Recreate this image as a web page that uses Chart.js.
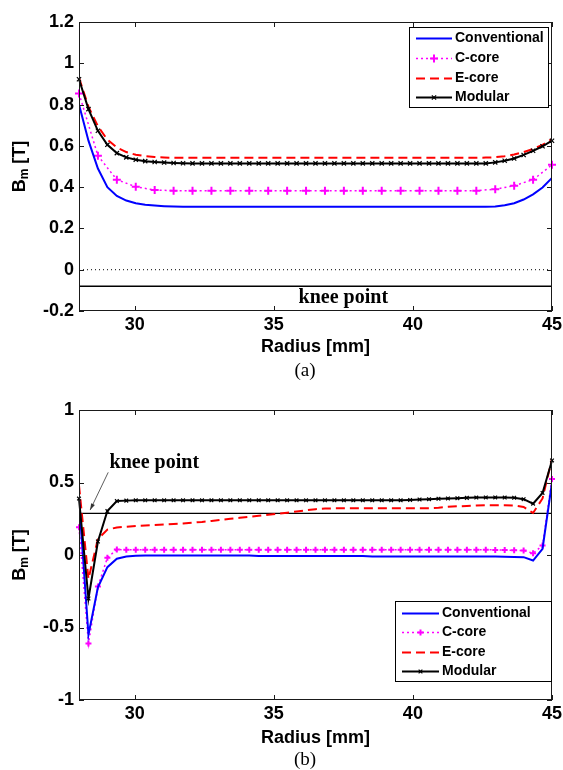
<!DOCTYPE html>
<html><head><meta charset="utf-8">
<script src="https://cdn.jsdelivr.net/npm/chart.js@4.4.1/dist/chart.umd.min.js"></script>
<style>
html,body{margin:0;padding:0;background:#fff;}
body{width:563px;height:770px;position:relative;overflow:hidden;}
canvas{position:absolute;left:0;}
#ca{top:0}
#cb{top:385px}
</style></head><body>
<canvas id="ca" width="563" height="385"></canvas>
<canvas id="cb" width="563" height="385"></canvas>
<script>
// ---------------- data ----------------
const seriesNames = ['Conventional', 'C-core', 'E-core', 'Modular'];
const xTicks = [30, 35, 40, 45];
const yTicksA = [-0.2, 0, 0.2, 0.4, 0.6, 0.8, 1.0, 1.2];
const yTicksB = [-1, -0.5, 0, 0.5, 1];

// radius samples [mm]
const radius = [28.00,28.34,28.68,29.02,29.36,29.70,30.04,30.38,30.72,31.06,
  31.40,31.74,32.08,32.42,32.76,33.10,33.44,33.78,34.12,34.46,
  34.80,35.14,35.48,35.82,36.16,36.50,36.84,37.18,37.52,37.86,
  38.20,38.54,38.88,39.22,39.56,39.90,40.24,40.58,40.92,41.26,
  41.60,41.94,42.28,42.62,42.96,43.30,43.64,43.98,44.32,44.66,45.00];
const radiusCcoreA = [28.00,28.68,29.36,30.04,30.72,31.40,32.08,32.76,33.44,34.12,
  34.80,35.48,36.16,36.84,37.52,38.20,38.88,39.56,40.24,40.92,
  41.60,42.28,42.96,43.64,44.32,45.00];

// (a)
const convA = [0.800,0.625,0.490,0.400,0.357,0.335,0.322,0.315,0.311,0.308,0.306,0.305,
  0.305,0.305,0.305,0.305,0.305,0.305,0.305,0.305,
  0.305,0.305,0.305,0.305,0.305,0.305,0.305,0.305,
  0.305,0.305,0.305,0.305,0.305,0.305,0.305,0.305,
  0.305,0.305,0.305,0.305,0.305,0.305,0.305,0.305,
  0.306,0.312,0.322,0.340,0.365,0.398,0.445];
const ccoreA = [0.854,0.552,0.436,0.402,0.386,
  0.383,0.383,0.383,0.383,0.383,0.383,0.383,0.383,0.383,
  0.383,0.383,0.383,0.383,0.383,0.383,0.383,0.383,
  0.390,0.407,0.436,0.508];
const ecoreA = [0.930,0.790,0.695,0.630,0.592,0.570,0.557,0.550,0.546,0.544,
  0.542,0.542,0.542,0.542,0.542,0.542,0.542,0.542,0.542,0.542,0.542,
  0.542,0.542,0.542,0.542,0.542,0.542,0.542,0.542,0.542,0.542,0.542,
  0.542,0.542,0.542,0.542,0.542,0.542,0.542,0.542,0.542,0.542,0.542,
  0.543,0.545,0.550,0.558,0.570,0.585,0.605,0.633];
const modA = [0.923,0.778,0.673,0.605,0.565,0.544,0.533,0.526,0.522,0.519,0.517,0.516,
  0.515,0.515,0.515,0.515,0.515,0.515,0.515,0.515,
  0.515,0.515,0.515,0.515,0.515,0.515,0.515,0.515,
  0.515,0.515,0.515,0.515,0.515,0.515,0.515,0.515,
  0.515,0.515,0.515,0.515,0.515,0.515,0.515,0.515,
  0.520,0.528,0.539,0.556,0.576,0.598,0.625];
const zeroA = 0;
const kneeA = -0.08;

// (b)
const convB = [0.380,-0.550,-0.223,-0.084,-0.026,-0.010,-0.006,
  -0.004,-0.004,-0.004,-0.004,-0.004,-0.004,-0.004,-0.004,-0.004,-0.004,-0.004,-0.004,
  -0.007,-0.007,-0.007,-0.007,-0.007,-0.007,-0.007,-0.007,-0.007,-0.007,-0.007,-0.007,
  -0.010,-0.010,-0.010,-0.010,-0.010,-0.010,-0.010,-0.010,-0.010,-0.010,-0.010,-0.010,-0.010,-0.010,
  -0.012,-0.013,-0.015,-0.038,0.043,0.500];
const ccoreB = [0.192,-0.610,-0.218,-0.019,0.038,
  0.036,0.036,0.036,0.036,0.036,0.036,0.036,0.036,0.036,0.036,0.036,0.036,0.036,0.036,
  0.036,0.036,0.036,0.036,0.036,0.036,0.036,0.036,0.036,0.036,0.036,0.036,0.036,0.036,
  0.036,0.036,0.036,0.036,0.036,0.036,0.036,0.036,0.036,0.036,0.036,0.035,0.034,0.033,
  0.031,0.012,0.066,0.525];
const ecoreB = [0.480,-0.165,0.110,0.175,0.190,0.195,0.200,0.203,0.207,0.210,
  0.214,0.218,0.223,0.228,0.235,0.242,0.250,0.257,0.264,0.270,
  0.277,0.285,0.292,0.300,0.308,0.316,0.320,0.322,
  0.322,0.322,0.322,0.322,0.322,0.322,0.322,0.322,0.322,0.322,
  0.326,0.332,0.336,0.338,0.341,0.343,0.343,0.343,0.341,0.331,0.290,0.390,0.665];
const modB = [0.389,-0.300,0.093,0.303,0.372,0.375,
  0.377,0.377,0.377,0.377,0.377,0.377,0.377,0.377,0.377,0.377,
  0.377,0.377,0.377,0.377,0.377,0.377,0.377,0.377,0.377,0.377,
  0.377,0.377,0.377,0.377,0.377,0.377,0.377,0.377,0.377,
  0.380,0.383,0.385,0.388,0.390,0.392,0.394,0.396,0.397,0.397,0.396,0.395,
  0.385,0.354,0.428,0.652];
const kneeB = 0.287;

// ---------------- helpers ----------------
const SANS = '"Liberation Sans", Arial, sans-serif';
const SERIF = '"Liberation Serif", "Times New Roman", serif';
const xRange = [28, 45];
const pts = (xs, ys) => xs.map((x, i) => ({x: x, y: ys[i]}));
const hline = v => [{x: xRange[0], y: v}, {x: xRange[1], y: v}];
const fmt = v => String(Math.round(v * 10) / 10);

Chart.defaults.font.family = SANS;
Chart.defaults.font.size = 18;
Chart.defaults.font.weight = 'bold';
Chart.defaults.color = '#000';

const decor = {
  id: 'decor',
  afterDatasetsDraw(chart, args, o) {
    const {ctx, chartArea: a, scales: {x, y}} = chart;
    ctx.save();
    // frame
    ctx.strokeStyle = '#1a1a1a';
    ctx.lineWidth = 1;
    ctx.setLineDash([]);
    ctx.strokeRect(a.left + 0.5, a.top + 0.5, a.right - a.left - 1, a.bottom - a.top - 1);
    // inward ticks on all four sides
    ctx.beginPath();
    y.ticks.forEach(t => {
      const py = Math.round(y.getPixelForValue(t.value)) + 0.5;
      ctx.moveTo(a.left, py); ctx.lineTo(a.left + 5, py);
      ctx.moveTo(a.right, py); ctx.lineTo(a.right - 5, py);
    });
    x.ticks.forEach(t => {
      const px = Math.round(x.getPixelForValue(t.value)) + 0.5;
      ctx.moveTo(px, a.bottom); ctx.lineTo(px, a.bottom - 5);
      ctx.moveTo(px, a.top); ctx.lineTo(px, a.top + 5);
    });
    ctx.stroke();

    // knee point annotation
    const k = o.knee;
    ctx.font = 'bold 20px ' + SERIF;
    ctx.fillStyle = '#000';
    ctx.textBaseline = 'middle';
    ctx.textAlign = k.align;
    ctx.fillText('knee point', x.getPixelForValue(k.x), y.getPixelForValue(k.y));
    if (k.arrow) {
      const x0 = x.getPixelForValue(k.arrow[0]), y0 = y.getPixelForValue(k.arrow[1]);
      const x1 = x.getPixelForValue(k.arrow[2]), y1 = y.getPixelForValue(k.arrow[3]);
      ctx.strokeStyle = '#333'; ctx.lineWidth = 0.8;
      ctx.beginPath(); ctx.moveTo(x0, y0); ctx.lineTo(x1, y1); ctx.stroke();
      const ang = Math.atan2(y1 - y0, x1 - x0);
      ctx.fillStyle = '#333';
      ctx.beginPath();
      ctx.moveTo(x1, y1);
      ctx.lineTo(x1 - 7 * Math.cos(ang - 0.3), y1 - 7 * Math.sin(ang - 0.3));
      ctx.lineTo(x1 - 7 * Math.cos(ang + 0.3), y1 - 7 * Math.sin(ang + 0.3));
      ctx.closePath(); ctx.fill();
    }

    // legend
    const L = o.legend;
    const bl = a.right - L.dRight - L.w;
    const bt = L.fromTop ? a.top + L.dTop : a.bottom - L.dBottom - L.h;
    ctx.fillStyle = '#fff';
    ctx.fillRect(bl, bt, L.w, L.h);
    ctx.strokeStyle = '#000'; ctx.lineWidth = 1;
    ctx.strokeRect(Math.round(bl) + 0.5, Math.round(bt) + 0.5, L.w, L.h);
    L.items.forEach((di, i) => {
      const ds = chart.data.datasets[di];
      const yy = Math.round(bt + L.rows[i]) + 0.5;
      const lx0 = bl + 7, lx1 = bl + 7 + L.line;
      ctx.strokeStyle = ds.borderColor;
      ctx.lineWidth = ds.borderWidth;
      ctx.setLineDash(ds.borderDash || []);
      ctx.beginPath(); ctx.moveTo(lx0, yy); ctx.lineTo(lx1, yy); ctx.stroke();
      ctx.setLineDash([]);
      if (ds.pointRadius > 0) {
        ctx.strokeStyle = ds.pointBorderColor || ds.borderColor;
        ctx.fillStyle = ds.pointBorderColor || ds.borderColor;
        ctx.lineWidth = ds.pointBorderWidth || 1;
        Chart.helpers.drawPoint(ctx, {pointStyle: ds.pointStyle, radius: ds.pointRadius, rotation: 0, borderWidth: ds.pointBorderWidth || 1}, (lx0 + lx1) / 2, yy);
      }
      ctx.fillStyle = '#000';
      ctx.font = 'bold 14px ' + SANS;
      ctx.textAlign = 'left';
      ctx.textBaseline = 'middle';
      ctx.fillText(seriesNames[i], lx1 + 3, yy);
    });

    // y-axis title  B_m [T]
    const cy = (a.top + a.bottom) / 2;
    ctx.translate(o.yTitleX, cy);
    ctx.rotate(-Math.PI / 2);
    ctx.fillStyle = '#000';
    ctx.textBaseline = 'middle';
    ctx.textAlign = 'left';
    const fB = 'bold 18px ' + SANS, fm = 'bold 12px ' + SANS;
    ctx.font = fB; const wB = ctx.measureText('B').width; const wT = ctx.measureText(' [T]').width;
    ctx.font = fm; const wm = ctx.measureText('m').width;
    let sx = -(wB + wm + wT) / 2;
    ctx.font = fB; ctx.fillText('B', sx, 0); sx += wB;
    ctx.font = fm; ctx.fillText('m', sx, 5); sx += wm;
    ctx.font = fB; ctx.fillText(' [T]', sx, 0);
    ctx.restore();

    // caption
    ctx.save();
    ctx.font = '19px ' + SERIF;
    ctx.fillStyle = '#000';
    ctx.textAlign = 'center';
    ctx.textBaseline = 'middle';
    ctx.fillText(o.caption, o.capX, o.capY);
    ctx.restore();
  }
};

function seriesSets(conv, ccore, ecore, mod, xC, plusR) {
  return [
    {label: seriesNames[0], data: pts(radius, conv), borderColor: '#0000ff', borderWidth: 2,
      pointRadius: 0, order: 2},
    {label: seriesNames[1], data: pts(xC, ccore), borderColor: '#ff00ff', borderWidth: 1.5,
      borderDash: [2, 3], pointStyle: 'cross', pointRadius: plusR, pointBorderWidth: 2,
      pointBorderColor: '#ff00ff', pointBackgroundColor: '#ff00ff', order: 4, clip: false},
    {label: seriesNames[2], data: pts(radius, ecore), borderColor: '#ff0000', borderWidth: 2,
      borderDash: [9, 5], pointRadius: 0, order: 3},
    {label: seriesNames[3], data: pts(radius, mod), borderColor: '#000000', borderWidth: 2,
      pointStyle: 'crossRot', pointRadius: 3, pointBorderWidth: 1.2,
      pointBorderColor: '#000000', order: 1, clip: false}
  ];
}

function makeChart(id, cfg) {
  return new Chart(document.getElementById(id), {
    type: 'line',
    data: {datasets: cfg.datasets},
    options: {
      responsive: false, animation: false, devicePixelRatio: 1,
      layout: {padding: {left: 0, top: cfg.padTop, right: 11, bottom: 0}},
      plugins: {legend: {display: false}, tooltip: {enabled: false}, decor: cfg.decor},
      elements: {line: {tension: 0}},
      scales: {
        x: {
          type: 'linear', min: xRange[0], max: xRange[1],
          grid: {display: false, drawTicks: false}, border: {display: false},
          afterBuildTicks: s => { s.ticks = xTicks.map(v => ({value: v})); },
          afterFit: s => { s.height = cfg.xH; s.paddingLeft = 0; s.paddingRight = 0; },
          ticks: {padding: 3, maxRotation: 0, autoSkip: false, callback: v => String(v)},
          title: {display: true, text: 'Radius [mm]', font: {size: 18, weight: 'bold'},
            padding: {top: 0, bottom: cfg.titlePad}}
        },
        y: {
          type: 'linear', min: cfg.yMin, max: cfg.yMax,
          grid: {display: false, drawTicks: false}, border: {display: false},
          afterBuildTicks: s => { s.ticks = cfg.yTicks.map(v => ({value: v})); },
          afterFit: s => { s.width = 79; s.paddingTop = 0; s.paddingBottom = 0; },
          ticks: {padding: 5, autoSkip: false, callback: v => fmt(v)}
        }
      }
    },
    plugins: [decor]
  });
}

// (a)
const setsA = seriesSets(convA, ccoreA, ecoreA, modA, radiusCcoreA, 4);
setsA.push({label: 'zero', data: hline(zeroA), borderColor: '#000', borderWidth: 1,
  borderDash: [1, 3], pointRadius: 0, order: 9});
setsA.push({label: 'knee', data: hline(kneeA), borderColor: '#000', borderWidth: 1.6,
  pointRadius: 0, order: 9});
makeChart('ca', {
  datasets: setsA, padTop: 22, xH: 74, titlePad: 27,
  yMin: -0.2, yMax: 1.2, yTicks: yTicksA,
  decor: {
    knee: {x: 37.5, y: -0.137, align: 'center'},
    legend: {fromTop: true, dTop: 5, dRight: 4, w: 139, h: 80, line: 36, rows: [11, 31, 51, 70], items: [0, 1, 2, 3]},
    yTitleX: 20, caption: '(a)', capX: 305, capY: 371
  }
});

// (b)
const setsB = seriesSets(convB, ccoreB, ecoreB, modB, radius, 3);
setsB[3].pointRadius = 2.6;
setsB.push({label: 'knee', data: hline(kneeB), borderColor: '#000', borderWidth: 1.4,
  pointRadius: 0, order: 9});
makeChart('cb', {
  datasets: setsB, padTop: 25, xH: 70, titlePad: 21,
  yMin: -1, yMax: 1, yTicks: yTicksB,
  decor: {
    knee: {x: 29.1, y: 0.634, align: 'left', arrow: [29.05, 0.57, 28.4, 0.31]},
    legend: {fromTop: false, dBottom: 19, dRight: 1, w: 156, h: 80, line: 37, rows: [12, 31, 51, 70], items: [0, 1, 2, 3]},
    yTitleX: 20, caption: '(b)', capX: 305, capY: 375
  }
});
</script>
</body></html>
